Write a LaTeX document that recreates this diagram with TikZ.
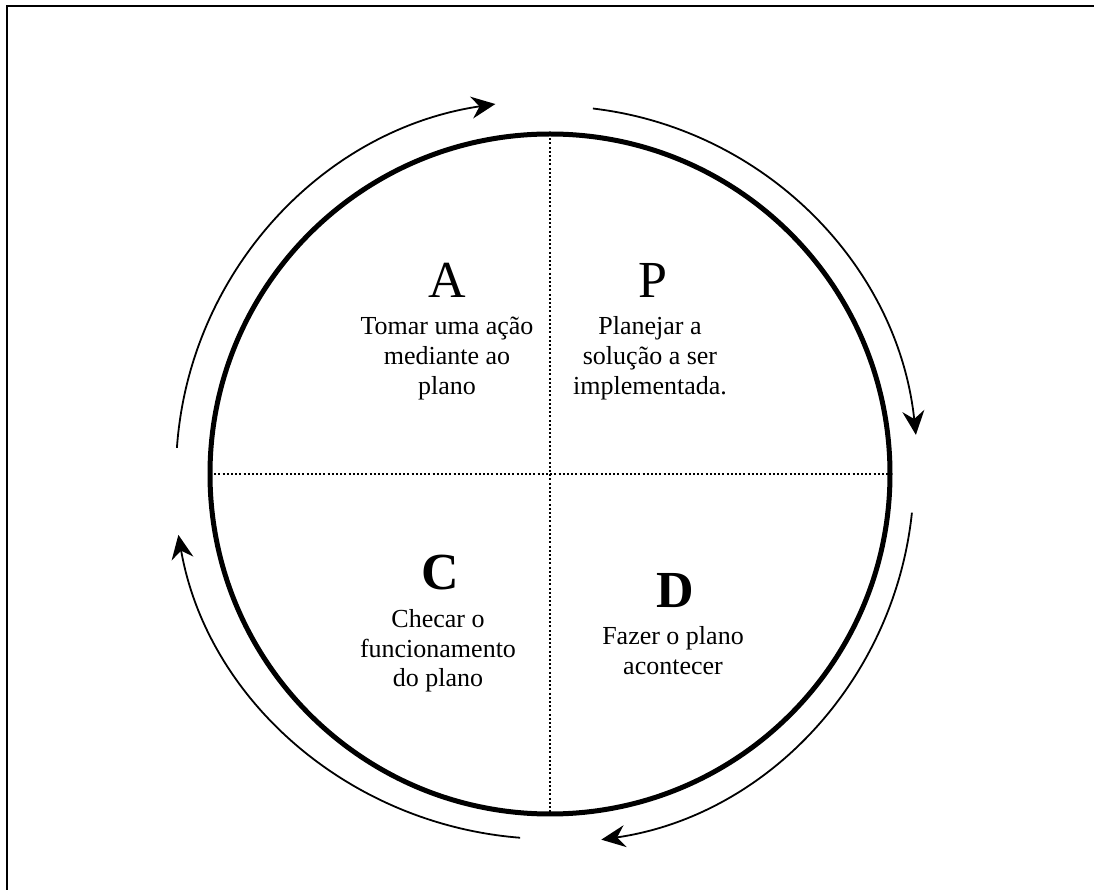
\documentclass[tikz,border=0pt]{standalone}
\usepackage{fontspec}
\setmainfont{Liberation Serif}
\usetikzlibrary{arrows.meta}
\begin{document}
\begin{tikzpicture}[x=0.5pt,y=0.5pt,
  ring/.style={circle, draw, line width=2.5pt, minimum size=340pt, inner sep=0pt, outer sep=0pt},
  divider/.style={line width=1pt, dash pattern=on 1pt off 1.1pt},
  flow/.style={line width=0.9pt, -{Stealth[length=12pt, width=11pt, inset=4pt]}},
  bigletter/.style={font=\fontsize{26}{30}\selectfont, inner sep=0pt},
  boldletter/.style={font=\fontsize{26}{30}\selectfont\bfseries, inner sep=0pt},
  desc/.style={font=\fontsize{13}{15}\selectfont, align=center, inner sep=0pt},
  frame/.style={line width=1.1pt}]
\useasboundingbox (0,0) rectangle (1094,890);

% page frame (left and top edges)
\coordinate (fbl) at (7,0);
\coordinate (ftl) at (7,884);
\coordinate (ftr) at (1094,884);
\draw[frame] (fbl) -- (ftl) -- (ftr);

% the PDCA wheel
\node[ring] (cyc) at (550,416) {};
\draw[divider] (cyc.north) -- (cyc.south);
\draw[divider] (cyc.west) -- (cyc.east);

% quadrant letters and descriptions (descriptions placed by their last baseline)
\node[bigletter, anchor=base] (A) at (447,592) {A};
\node[desc, anchor=base] (Atxt) at (447,495) {Tomar uma ação\\mediante ao\\plano};

\node[bigletter, anchor=base] (P) at (653,592) {P};
\node[desc, anchor=base] (Ptxt) at (650,495) {Planejar a\\solução a ser\\implementada.};

\node[boldletter, anchor=base] (C) at (440,300) {C};
\node[desc, anchor=base] (Ctxt) at (438,203) {Checar o\\funcionamento\\do plano};

\node[boldletter, anchor=base] (D) at (675,282) {D};
\node[desc, anchor=base] (Dtxt) at (673,215) {Fazer o plano\\acontecer};

% clockwise cycle arrows around the wheel
\coordinate (s1) at ([shift={(cyc.center)}]176:374);
\coordinate (s2) at ([shift={(cyc.center)}]83.3:368);
\coordinate (s3) at ([shift={(cyc.center)}]-6.1:364);
\coordinate (s4) at ([shift={(cyc.center)}]-94.7:365);
\draw[flow] (s1) arc[start angle=176, end angle=98.4, radius=374];
\draw[flow] (s2) arc[start angle=83.3, end angle=6.1, radius=368];
\draw[flow] (s3) arc[start angle=-6.1, end angle=-81.9, x radius=364, y radius=370];
\draw[flow] (s4) arc[start angle=-94.7, end angle=-170.4, x radius=378, y radius=365];
\end{tikzpicture}
\end{document}
